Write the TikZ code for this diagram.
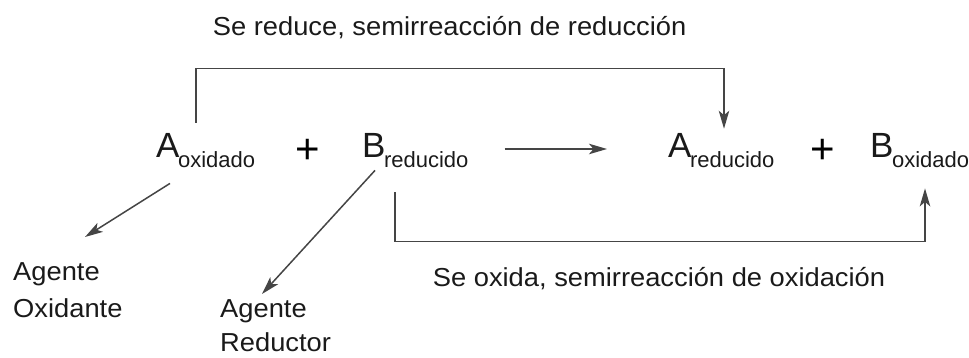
\documentclass[tikz,border=0pt]{standalone}
\usepackage{fontspec}
\setmainfont{Liberation Sans}
\usetikzlibrary{arrows.meta,calc}
\definecolor{txt}{HTML}{1A1A1A}
\definecolor{ln}{HTML}{454545}
\newcommand{\chemsub}[1]{\kern-1.5pt\raisebox{-10pt}{\fontsize{22}{22}\selectfont #1}}
\newcommand{\widetxt}[1]{\scalebox{1.05}[1]{#1}}
\begin{document}
\begin{tikzpicture}[x=1pt,y=1pt,
  lbl/.style={inner sep=0pt, anchor=base west, text=txt, align=left,
    font=\fontsize{26}{35}\selectfont},
  chem/.style={inner sep=0pt, anchor=base west, text=txt,
    font=\fontsize{35}{35}\selectfont},
  plussign/.style={inner sep=0pt, anchor=center, text=black,
    font=\fontsize{42}{42}\selectfont},
  conn/.style={draw=ln, line width=1.5pt},
  arr/.style={conn, -{Stealth[length=18pt,width=10.5pt,inset=4.5pt]}},
]
\useasboundingbox (0,0) rectangle (969,358);
% equation
\node[chem] (Aox) at (156,200) {A\chemsub{oxidado}};
\node[plussign] (plus1) at (307.5,206.5) {+};
\node[chem] (Bred) at (362,200) {B\chemsub{reducido}};
\node[chem] (Ared) at (668,200) {A\chemsub{reducido}};
\node[plussign] (plus2) at (823,206.5) {+};
\node[chem] (Box) at (870,200) {B\chemsub{oxidado}};
% labels
\node[lbl] (top) at (212.7,322) {\widetxt{Se reduce, semirreacción de reducción}};
\node[lbl] (bot) at (432.7,71) {\widetxt{Se oxida, semirreacción de oxidación}};
\node[lbl] (agox) at (13,40) {\widetxt{Agente}\\[2pt]\widetxt{Oxidante}};
\node[lbl] (agred) at (220,6.5) {\widetxt{Agente}\\[-1.5pt]\widetxt{Reductor}};
% arrow targets
\coordinate (tipox) at (85,121);
\coordinate (tipred) at (262,64);
% connectors
\draw[arr] ([shift={(36,9)}]Bred.base east) -- ([shift={(-61,9)}]Ared.base west);
\draw[arr] ([shift={(40,11)}]Aox.north west) -- ++(0,54.3) -| ([shift={(56,5)}]Ared.north west);
\draw[arr] ([shift={(33,-24)}]Bred.south west) -- ++(0,-49) -| ([shift={(55,-20)}]Box.south west);
\draw[arr] ([shift={(14,-15)}]Aox.south west) -- (tipox);
\draw[arr] ([shift={(13,-2)}]Bred.south west) -- (tipred);
\end{tikzpicture}
\end{document}
